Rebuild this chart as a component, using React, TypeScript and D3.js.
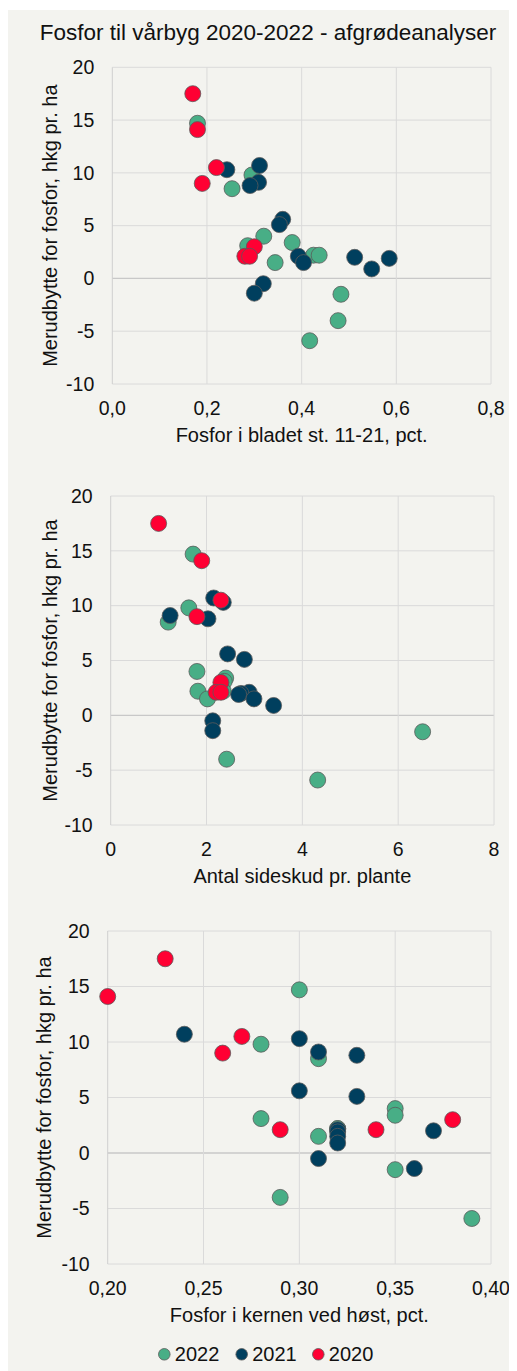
import React, { useRef, useEffect } from 'react';
import * as d3 from 'd3';

// merudbytte (hkg pr. ha) og målinger pr. forsøg, pr. år
const yield2022 = [14.7, 9.8, 8.5, 4.0, 3.4, 3.1, 2.2, 2.2, 1.5, -1.5, -4.0, -5.9];
const leafP2022 = [0.18, 0.295, 0.253, 0.32, 0.38, 0.286, 0.425, 0.437, 0.344, 0.483, 0.477, 0.417];
const shoots2022 = [1.72, 1.63, 1.2, 1.8, 2.4, 2.37, 1.82, 2.35, 2.02, 6.51, 2.42, 4.32];
const kernelP2022 = [0.30, 0.28, 0.31, 0.35, 0.35, 0.28, 0.32, 0.32, 0.31, 0.35, 0.29, 0.39];

const yield2021 = [10.7, 10.3, 9.1, 8.8, 5.6, 5.1, 2.1, 2.0, 1.9, 1.5, 0.9, -0.5, -1.4];
const leafP2021 = [0.311, 0.242, 0.309, 0.291, 0.36, 0.353, 0.393, 0.512, 0.585, 0.404, 0.548, 0.319, 0.30];
const shoots2021 = [2.15, 2.35, 1.24, 2.03, 2.44, 2.79, 2.89, 2.72, 2.67, 2.99, 3.4, 2.13, 2.13];
const kernelP2021 = [0.24, 0.30, 0.31, 0.33, 0.30, 0.33, 0.32, 0.37, 0.32, 0.32, 0.32, 0.31, 0.36];

const yield2020 = [17.5, 14.1, 10.5, 9.0, 3.0, 2.1, 2.1];
const leafP2020 = [0.17, 0.18, 0.22, 0.19, 0.30, 0.28, 0.29];
const shoots2020 = [1.0, 1.9, 2.3, 1.8, 2.3, 2.2, 2.3];
const kernelP2020 = [0.23, 0.20, 0.27, 0.26, 0.38, 0.29, 0.34];

const years = ['2022', '2021', '2020'];
const colors = ['#48ae86', '#003f5e', '#ff0033'];
const yTicks = [-10, -5, 0, 5, 10, 15, 20];

const title = 'Fosfor til vårbyg 2020-2022 - afgrødeanalyser';
const yTitle = 'Merudbytte for fosfor, hkg pr. ha';

type Panel = {
    xs: number[][];
    xDomain: [number, number];
    xTicks: number[];
    fmt: (v: number) => string;
    xTitle: string;
    left: number; right: number; top: number; bottom: number;
    yTitleX: number;
};

const comma = (digits: number) => (v: number) => v.toFixed(digits).replace('.', ',');

const App = () => {
    const ref = useRef<SVGSVGElement>(null);

    useEffect(() => {
        const width = 509;
        const height = 1363;
        const font = 'Liberation Sans, Arial, sans-serif';
        const ys = [yield2022, yield2021, yield2020];

        const panels: Panel[] = [
            { xs: [leafP2022, leafP2021, leafP2020], xDomain: [0, 0.8], xTicks: [0, 0.2, 0.4, 0.6, 0.8], fmt: comma(1),
              xTitle: 'Fosfor i bladet st. 11-21, pct.', left: 104.3, right: 483, top: 59.3, bottom: 376, yTitleX: 42 },
            { xs: [shoots2022, shoots2021, shoots2020], xDomain: [0, 8], xTicks: [0, 2, 4, 6, 8], fmt: comma(0),
              xTitle: 'Antal sideskud pr. plante', left: 102.7, right: 486, top: 488, bottom: 817, yTitleX: 42 },
            { xs: [kernelP2022, kernelP2021, kernelP2020], xDomain: [0.2, 0.4], xTicks: [0.2, 0.25, 0.3, 0.35, 0.4], fmt: comma(2),
              xTitle: 'Fosfor i kernen ved høst, pct.', left: 99.7, right: 483, top: 923, bottom: 1256, yTitleX: 36 },
        ];

        const svg = d3.select(ref.current)
            .attr('width', width)
            .attr('height', height)
            .style('display', 'block')
            .style('font-family', font);

        svg.selectAll('*').remove();

        svg.append('rect')
            .attr('x', 0).attr('y', 2)
            .attr('width', width).attr('height', height - 2)
            .attr('fill', '#f3f3ef');

        svg.append('text')
            .attr('x', 260).attr('y', 32)
            .attr('text-anchor', 'middle')
            .attr('font-size', 22.5)
            .attr('fill', '#111')
            .text(title);

        panels.forEach(p => {
            const x = d3.scaleLinear().domain(p.xDomain).range([p.left, p.right]);
            const y = d3.scaleLinear().domain([-10, 20]).range([p.bottom, p.top]);
            const g = svg.append('g');

            g.append('g')
                .selectAll('line')
                .data(yTicks)
                .join('line')
                .attr('x1', p.left).attr('x2', p.right)
                .attr('y1', d => y(d)).attr('y2', d => y(d))
                .attr('stroke', d => d === 0 ? '#c8c8c8' : '#dadada')
                .attr('stroke-width', d => d === 0 ? 1.3 : 1);

            g.append('g')
                .selectAll('line')
                .data(p.xTicks)
                .join('line')
                .attr('x1', d => x(d)).attr('x2', d => x(d))
                .attr('y1', p.top).attr('y2', p.bottom)
                .attr('stroke', (d, i) => i === 0 ? '#cfcfcf' : '#dadada');

            g.append('g')
                .selectAll('text')
                .data(yTicks)
                .join('text')
                .attr('x', p.left - 18)
                .attr('y', d => y(d))
                .attr('dy', '0.35em')
                .attr('text-anchor', 'end')
                .attr('font-size', 19.5)
                .attr('fill', '#111')
                .text(d => String(d));

            g.append('g')
                .selectAll('text')
                .data(p.xTicks)
                .join('text')
                .attr('x', d => x(d))
                .attr('y', p.bottom + 24)
                .attr('dy', '0.35em')
                .attr('text-anchor', 'middle')
                .attr('font-size', 19.5)
                .attr('fill', '#111')
                .text(d => p.fmt(d));

            g.append('text')
                .attr('x', (p.left + p.right) / 2)
                .attr('y', p.bottom + 51)
                .attr('dy', '0.35em')
                .attr('text-anchor', 'middle')
                .attr('font-size', 20)
                .attr('fill', '#111')
                .text(p.xTitle);

            g.append('text')
                .attr('transform', `translate(${p.yTitleX},${(p.top + p.bottom) / 2}) rotate(-90)`)
                .attr('dy', '0.35em')
                .attr('text-anchor', 'middle')
                .attr('font-size', 20)
                .attr('fill', '#111')
                .text(yTitle);

            years.forEach((yr, k) => {
                g.append('g')
                    .selectAll('circle')
                    .data(p.xs[k].map((v, i) => [v, ys[k][i]]))
                    .join('circle')
                    .attr('cx', d => x(d[0]))
                    .attr('cy', d => y(d[1]))
                    .attr('r', 8)
                    .attr('fill', colors[k])
                    .attr('stroke', '#5a5a5a')
                    .attr('stroke-width', 0.8);
            });
        });

        // legend
        const legendX = [156.3, 233.7, 310.3];
        const legend = svg.append('g');
        years.forEach((yr, k) => {
            legend.append('circle')
                .attr('cx', legendX[k]).attr('cy', 1346.3)
                .attr('r', 5.8)
                .attr('fill', colors[k])
                .attr('stroke', '#5a5a5a')
                .attr('stroke-width', 0.8);
            legend.append('text')
                .attr('x', legendX[k] + 10.5).attr('y', 1346.3)
                .attr('dy', '0.35em')
                .attr('font-size', 20)
                .attr('fill', '#111')
                .text(yr);
        });
    }, []);

    return <svg ref={ref}></svg>;
};

export default App;
